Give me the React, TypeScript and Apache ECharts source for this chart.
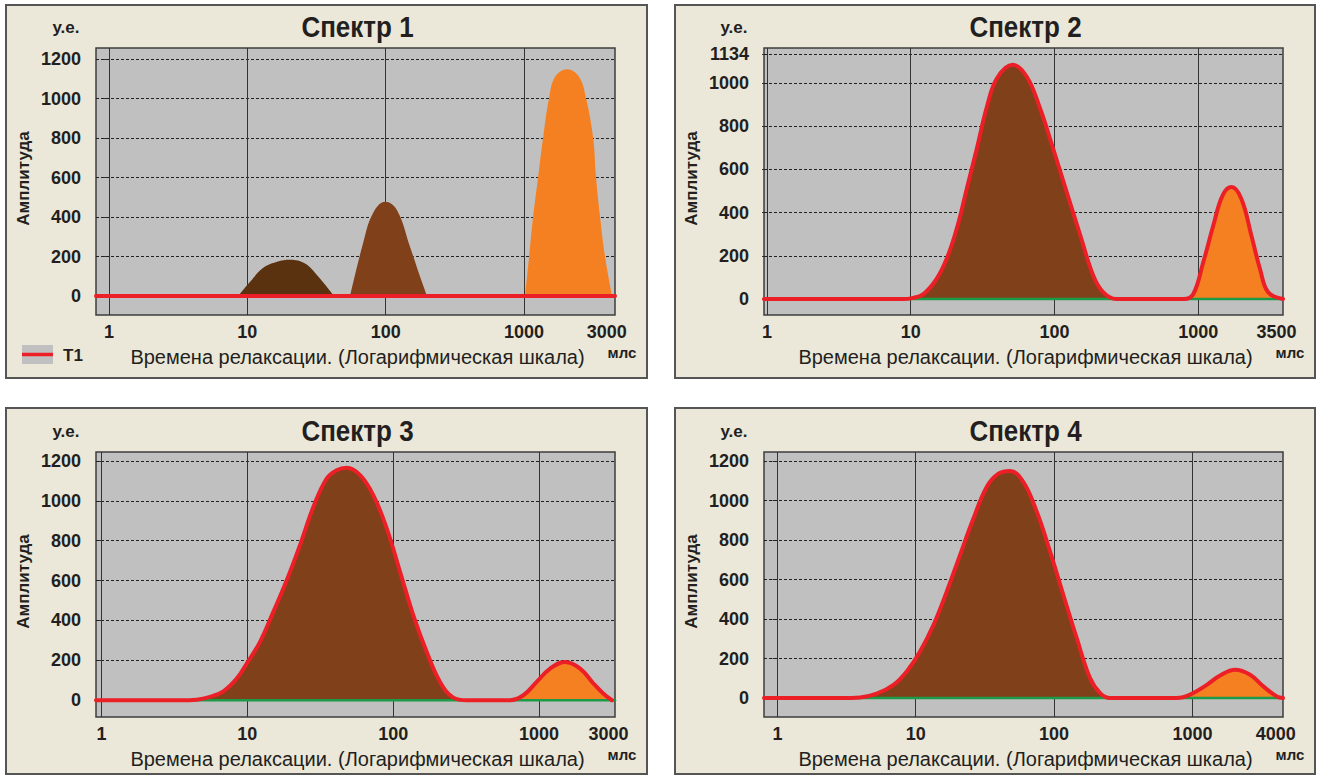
import React, { useEffect, useRef } from "react";
import * as echarts from "echarts";

const FONT = "'Liberation Sans', Arial, sans-serif";

// ---- tick values ----
const yTicksStd = [0, 200, 400, 600, 800, 1000, 1200];
const yTicksS2 = [0, 200, 400, 600, 800, 1000, 1134];
const decadeLines = [0, 1, 2, 3]; // log10 of 1, 10, 100, 1000 ms
const xLabelsS1 = ["1", "10", "100", "1000", "3000"];
const xLabelsS2 = ["1", "10", "100", "1000", "3500"];
const xLabelsS3 = ["1", "10", "100", "1000", "3000"];
const xLabelsS4 = ["1", "10", "100", "1000", "4000"];

// ---- Spectrum 1 : three separate humps (x = log10 of time, ms) ----
const s1AHumpLogT = [0.933, 1.02, 1.113, 1.215, 1.309, 1.417, 1.511, 1.627];
const s1AHumpAmp = [0, 72, 142, 174, 184, 165, 100, 0];
const s1BHumpLogT = [1.743, 1.837, 1.909, 1.996, 2.082, 2.176, 2.249, 2.299];
const s1BHumpAmp = [0, 268, 420, 477, 435, 250, 98, 0];
const s1CHumpLogT = [3.008, 3.037, 3.066, 3.102, 3.138, 3.181, 3.225, 3.312, 3.398, 3.449, 3.5, 3.521, 3.55, 3.586, 3.637];
const s1CHumpAmp = [0, 199, 401, 600, 800, 1000, 1110, 1149, 1110, 1000, 800, 600, 401, 199, 0];

// ---- Spectrum 2 ----
const s2LogT = [-0.021, 0.95, 1.0, 1.088, 1.18, 1.25, 1.32, 1.39, 1.46, 1.53, 1.6, 1.709, 1.807, 1.9, 1.99, 2.085, 2.18, 2.27, 2.34, 2.43, 2.9, 2.966, 3.035, 3.105, 3.17, 3.232, 3.3, 3.37, 3.43, 3.487, 3.59];
const s2Amp = [0, 0, 3, 23, 93, 186, 325, 511, 697, 890, 1022, 1084, 1029, 882, 697, 495, 294, 108, 31, 0, 0, 23, 170, 340, 480, 518, 464, 294, 139, 31, 0];

// ---- Spectrum 3 ----
const s3LogT = [-0.038, 0.538, 0.652, 0.744, 0.835, 0.927, 1.0, 1.087, 1.178, 1.27, 1.361, 1.453, 1.544, 1.613, 1.681, 1.773, 1.864, 1.956, 2.047, 2.138, 2.23, 2.321, 2.413, 2.504, 2.8, 2.893, 2.984, 3.076, 3.179, 3.282, 3.373, 3.442, 3.5];
const s3Amp = [0, 0, 3, 17, 45, 109, 189, 293, 443, 602, 778, 970, 1112, 1154, 1166, 1129, 1028, 861, 644, 426, 242, 92, 13, 0, 0, 25, 92, 159, 192, 159, 84, 33, 0];

// ---- Spectrum 4 ----
const s4LogT = [-0.097, 0.453, 0.598, 0.718, 0.839, 0.935, 1.031, 1.128, 1.224, 1.32, 1.417, 1.513, 1.598, 1.682, 1.778, 1.875, 1.971, 2.067, 2.164, 2.26, 2.333, 2.405, 2.887, 2.983, 3.104, 3.2, 3.308, 3.417, 3.513, 3.61, 3.655];
const s4Amp = [0, 0, 3, 22, 67, 135, 236, 370, 539, 724, 909, 1069, 1136, 1150, 1094, 943, 741, 522, 303, 101, 25, 0, 0, 17, 67, 114, 143, 118, 59, 8, 0];

// fill ranges (log10 time) for the two components
const s2Brown = [0.95, 2.43];
const s2Orange = [2.9, 3.59];
const s3Brown = [0.6, 2.504];
const s3Orange = [2.8, 3.5];
const s4Brown = [0.55, 2.405];
const s4Orange = [2.887, 3.655];

const RED = "#ec1f27";
const BROWN = "#80401a";
const DARK_BROWN = "#5a3210";
const ORANGE = "#f58021";
const GREEN = "#1c9a48";
const PLOT_BG = "#c0c0c0";
const PANEL_BG = "#ebe8d9";
const TXT = "#231f20";

const zip = (xs: number[], ys: number[]) => xs.map((x, i) => [x, ys[i]]);
const within = (xs: number[], ys: number[], r: number[]) =>
  zip(xs, ys).filter((p) => p[0] >= r[0] - 1e-9 && p[0] <= r[1] + 1e-9);

type Panel = {
  title: string;
  grid: { left: number; top: number; width: number; height: number };
  xMin: number;
  xMax: number;
  yMin: number;
  yMax: number;
  yTicks: number[];
  xLabels: string[];
  xLabelPos: number[];
  frame: { x: number; y: number; width: number; height: number };
};

const panels: Panel[] = [
  {
    title: "Спектр 1",
    grid: { left: 96, top: 48, width: 519, height: 267 },
    xMin: -0.094, xMax: 3.658, yMin: -96, yMax: 1256,
    yTicks: yTicksStd, xLabels: xLabelsS1,
    xLabelPos: [0, 1, 2, 3, 3.598],
    frame: { x: 6, y: 5, width: 641, height: 373 },
  },
  {
    title: "Спектр 2",
    grid: { left: 764, top: 48, width: 519, height: 267 },
    xMin: -0.021, xMax: 3.59, yMin: -74, yMax: 1162,
    yTicks: yTicksS2, xLabels: xLabelsS2,
    xLabelPos: [0, 1, 2, 3, Math.log10(3500)],
    frame: { x: 675, y: 5, width: 640, height: 373 },
  },
  {
    title: "Спектр 3",
    grid: { left: 96, top: 452, width: 519, height: 265 },
    xMin: -0.038, xMax: 3.521, yMin: -84, yMax: 1245,
    yTicks: yTicksStd, xLabels: xLabelsS3,
    xLabelPos: [0, 1, 2, 3, Math.log10(3000)],
    frame: { x: 6, y: 408, width: 641, height: 366 },
  },
  {
    title: "Спектр 4",
    grid: { left: 764, top: 452, width: 519, height: 265 },
    xMin: -0.097, xMax: 3.655, yMin: -96, yMax: 1246,
    yTicks: yTicksStd, xLabels: xLabelsS4,
    xLabelPos: [0, 1, 2, 3, Math.log10(4000)],
    frame: { x: 675, y: 408, width: 640, height: 366 },
  },
];

function buildOption() {
  const grids: any[] = [];
  const xAxes: any[] = [];
  const yAxes: any[] = [];
  const series: any[] = [];
  const graphics: any[] = [];

  panels.forEach((p, i) => {
    grids.push({
      ...p.grid,
      show: true,
      backgroundColor: PLOT_BG,
      borderColor: "#3c3c3c",
      borderWidth: 1.5,
      containLabel: false,
    });
    xAxes.push({
      type: "value",
      gridIndex: i,
      min: p.xMin,
      max: p.xMax,
      axisLine: { show: false },
      splitLine: { show: false },
      axisTick: {
        show: true,
        customValues: decadeLines,
        length: 4,
        lineStyle: { color: "#333", width: 1 },
      },
      axisLabel: {
        customValues: p.xLabelPos,
        formatter: (v: number) => {
          const k = p.xLabelPos.findIndex((q) => Math.abs(q - v) < 1e-6);
          return k >= 0 ? p.xLabels[k] : "";
        },
        fontFamily: FONT,
        fontWeight: "bold",
        fontSize: 18,
        color: TXT,
        margin: 8,
      },
    });
    yAxes.push({
      type: "value",
      gridIndex: i,
      min: p.yMin,
      max: p.yMax,
      axisLine: { show: false },
      splitLine: { show: false },
      axisTick: {
        show: true,
        customValues: p.yTicks,
        length: 5,
        lineStyle: { color: "#333", width: 1 },
      },
      axisLabel: {
        customValues: p.yTicks,
        formatter: (v: number) => String(v),
        fontFamily: FONT,
        fontWeight: "bold",
        fontSize: 18,
        color: TXT,
        margin: 15,
      },
    });

    // grid lines (behind fills)
    series.push({
      type: "line",
      xAxisIndex: i,
      yAxisIndex: i,
      data: [[p.xMin, 0], [p.xMax, 0]],
      symbol: "none",
      silent: true,
      lineStyle: { opacity: 0 },
      z: 1,
      markLine: {
        silent: true,
        symbol: ["none", "none"],
        z: 1,
        label: { show: false },
        emphasis: { disabled: true },
        lineStyle: { color: "#333", width: 1, type: "solid" },
        data: [
          ...p.yTicks.map((v) => ({ yAxis: v, lineStyle: { type: [3, 2], color: "#222", width: 1 } })),
          ...decadeLines.map((v) => ({ xAxis: v, lineStyle: { type: "solid", color: "#333", width: 1 } })),
        ],
      },
    });

    const fill = (data: number[][], color: string) => ({
      type: "line",
      xAxisIndex: i,
      yAxisIndex: i,
      data,
      smooth: 0.4,
      symbol: "none",
      silent: true,
      lineStyle: { width: 0, opacity: 0 },
      areaStyle: { color, opacity: 1 },
      z: 3,
    });
    const line = (data: number[][], color: string, width: number, z: number) => ({
      type: "line",
      xAxisIndex: i,
      yAxisIndex: i,
      data,
      smooth: 0.4,
      symbol: "none",
      silent: true,
      lineStyle: { color, width, cap: "round", join: "round" },
      z,
    });

    if (i === 0) {
      series.push(fill(zip(s1AHumpLogT, s1AHumpAmp), DARK_BROWN));
      series.push(fill(zip(s1BHumpLogT, s1BHumpAmp), BROWN));
      series.push(fill(zip(s1CHumpLogT, s1CHumpAmp), ORANGE));
      series.push(line([[p.xMin, 0], [p.xMax, 0]], RED, 4, 5));
    } else {
      const xs = i === 1 ? s2LogT : i === 2 ? s3LogT : s4LogT;
      const ys = i === 1 ? s2Amp : i === 2 ? s3Amp : s4Amp;
      const br = i === 1 ? s2Brown : i === 2 ? s3Brown : s4Brown;
      const or = i === 1 ? s2Orange : i === 2 ? s3Orange : s4Orange;
      series.push(fill(within(xs, ys, br), BROWN));
      series.push(fill(within(xs, ys, or), ORANGE));
      series.push(line([[p.xMin, 0], [p.xMax, 0]], GREEN, 2.5, 4));
      series.push(line(zip(xs, ys), RED, 4, 5));
    }

    // frame
    graphics.push({
      type: "rect",
      shape: p.frame,
      style: { fill: PANEL_BG, stroke: "#555", lineWidth: 2 },
      z: -100,
      silent: true,
    });
    const cx = p.grid.left + p.grid.width / 2 + 2;
    const top = p.grid.top;
    const bottom = p.grid.top + p.grid.height;
    const plotLeft = p.grid.left;
    const plotRight = p.grid.left + p.grid.width;
    const text = (t: string, x: number, y: number, size: number, weight: string, extra: any = {}) => ({
      type: "text",
      x,
      y,
      z: 100,
      silent: true,
      ...extra,
      style: {
        text: t,
        fontFamily: FONT,
        fontSize: size,
        fontWeight: weight,
        fill: TXT,
        align: "center",
        verticalAlign: "middle",
      },
    });
    graphics.push(text(p.title, cx, top - 21, 26, "bold", { scaleY: 1.12 }));
    graphics.push(text("у.е.", plotLeft - 30, top - 21, 17, "bold"));
    graphics.push(text("Амплитуда", plotLeft - 73, (top + bottom) / 2 - 3, 17, "bold", { rotation: Math.PI / 2 }));
    graphics.push(text("Времена релаксации. (Логарифмическая шкала)", cx, bottom + 42, 20, "normal"));
    graphics.push(text("млс", plotRight + 7, bottom + 37, 15, "bold"));
  });

  // legend in panel 1
  graphics.push({ type: "rect", shape: { x: 22, y: 345, width: 31, height: 19 }, style: { fill: PLOT_BG }, z: 100, silent: true });
  graphics.push({ type: "line", shape: { x1: 22, y1: 354.5, x2: 53, y2: 354.5 }, style: { stroke: RED, lineWidth: 3.5 }, z: 101, silent: true });
  graphics.push({
    type: "text",
    x: 63,
    y: 355,
    z: 101,
    silent: true,
    style: { text: "T1", fontFamily: FONT, fontSize: 17, fontWeight: "bold", fill: TXT, align: "left", verticalAlign: "middle" },
  });

  return {
    animation: false,
    backgroundColor: "#ffffff",
    textStyle: { fontFamily: FONT },
    grid: grids,
    xAxis: xAxes,
    yAxis: yAxes,
    series,
    graphic: { elements: graphics },
  };
}

export default function App() {
  const ref = useRef<HTMLDivElement>(null);
  useEffect(() => {
    if (!ref.current) return;
    const chart = echarts.init(ref.current, undefined, { renderer: "svg" });
    chart.setOption(buildOption() as any);
    return () => chart.dispose();
  }, []);
  return (
    <div
      ref={ref}
      style={{ position: "absolute", left: 0, top: 0, width: 1317, height: 776 }}
    />
  );
}
